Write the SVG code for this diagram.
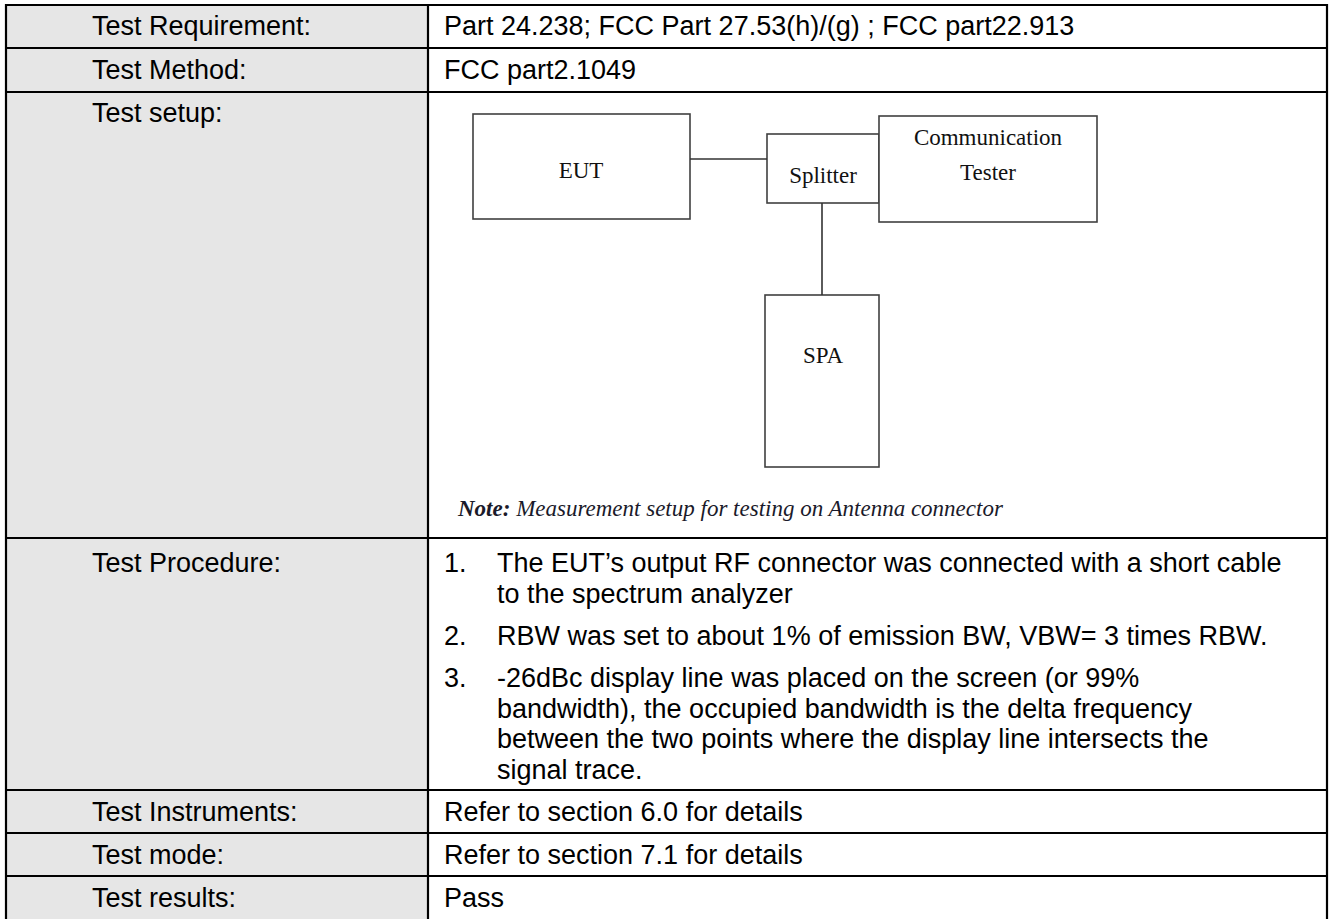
<svg xmlns="http://www.w3.org/2000/svg" width="1330" height="919" viewBox="0 0 1330 919">
<style>
.lbl{font-family:"Liberation Sans",Arial,sans-serif;font-size:27px;fill:#000}
.val{font-family:"Liberation Sans",Arial,sans-serif;font-size:27px;fill:#000}
.grid{stroke:#000;stroke-width:2.2;fill:none}
.box{fill:#fff;stroke:#404040;stroke-width:1.6}
.btxt{font-family:"Liberation Serif","Times New Roman",serif;font-size:23px;fill:#111;text-anchor:middle}
.conn{stroke:#333;stroke-width:1.6;fill:none}
.note{font-family:"Liberation Serif","Times New Roman",serif;font-size:23px;font-style:italic;fill:#1a1a2a}
</style>
<rect x="0" y="0" width="1330" height="919" fill="#fff"/>
<g id="table">
<rect x="6" y="5" width="422" height="920" fill="#e6e6e6"/>
<path class="grid" d="M6,5 H1327 M6,48 H1327 M6,92 H1327 M6,538 H1327 M6,790 H1327 M6,833 H1327 M6,876 H1327 M6,4 V920 M428,4 V920 M1327,4 V920"/>
</g>
<g id="row-requirement">
<text class="lbl" x="92" y="35">Test Requirement:</text>
<text class="val" x="444" y="35">Part 24.238; FCC Part 27.53(h)/(g) ; FCC part22.913</text>
</g>
<g id="row-method">
<text class="lbl" x="92" y="79">Test Method:</text>
<text class="val" x="444" y="79">FCC part2.1049</text>
</g>
<g id="row-setup">
<text class="lbl" x="92" y="122">Test setup:</text>
</g>
<g id="node-eut">
<rect class="box" x="473" y="114" width="217" height="105"/>
<text class="btxt" x="581" y="178">EUT</text>
</g>
<g id="node-splitter">
<rect class="box" x="767" y="134" width="112" height="69"/>
<text class="btxt" x="823" y="183">Splitter</text>
</g>
<g id="node-comm">
<rect class="box" x="879" y="116" width="218" height="106"/>
<text class="btxt" x="988" y="145">Communication</text>
<text class="btxt" x="988" y="180">Tester</text>
</g>
<g id="node-spa">
<rect class="box" x="765" y="295" width="114" height="172"/>
<text class="btxt" x="823" y="363">SPA</text>
</g>
<g id="connectors">
<line class="conn" x1="690" y1="159" x2="767" y2="159"/>
<line class="conn" x1="822" y1="203" x2="822" y2="295"/>
</g>
<g id="note">
<text class="note" x="458" y="516"><tspan font-weight="bold">Note:</tspan> Measurement setup for testing on Antenna connector</text>
</g>
<g id="row-procedure">
<text class="lbl" x="92" y="572">Test Procedure:</text>
<text class="val" x="444" y="572">1.</text>
<text class="val" x="497" y="572">The EUT’s output RF connector was connected with a short cable</text>
<text class="val" x="497" y="602.5">to the spectrum analyzer</text>
<text class="val" x="444" y="645">2.</text>
<text class="val" x="497" y="645">RBW was set to about 1% of emission BW, VBW= 3 times RBW.</text>
<text class="val" x="444" y="687">3.</text>
<text class="val" x="497" y="687">-26dBc display line was placed on the screen (or 99%</text>
<text class="val" x="497" y="717.5">bandwidth), the occupied bandwidth is the delta frequency</text>
<text class="val" x="497" y="748">between the two points where the display line intersects the</text>
<text class="val" x="497" y="778.5">signal trace.</text>
</g>
<g id="row-instruments">
<text class="lbl" x="92" y="821">Test Instruments:</text>
<text class="val" x="444" y="821">Refer to section 6.0 for details</text>
</g>
<g id="row-mode">
<text class="lbl" x="92" y="864">Test mode:</text>
<text class="val" x="444" y="864">Refer to section 7.1 for details</text>
</g>
<g id="row-results">
<text class="lbl" x="92" y="907">Test results:</text>
<text class="val" x="444" y="907">Pass</text>
</g>
</svg>
